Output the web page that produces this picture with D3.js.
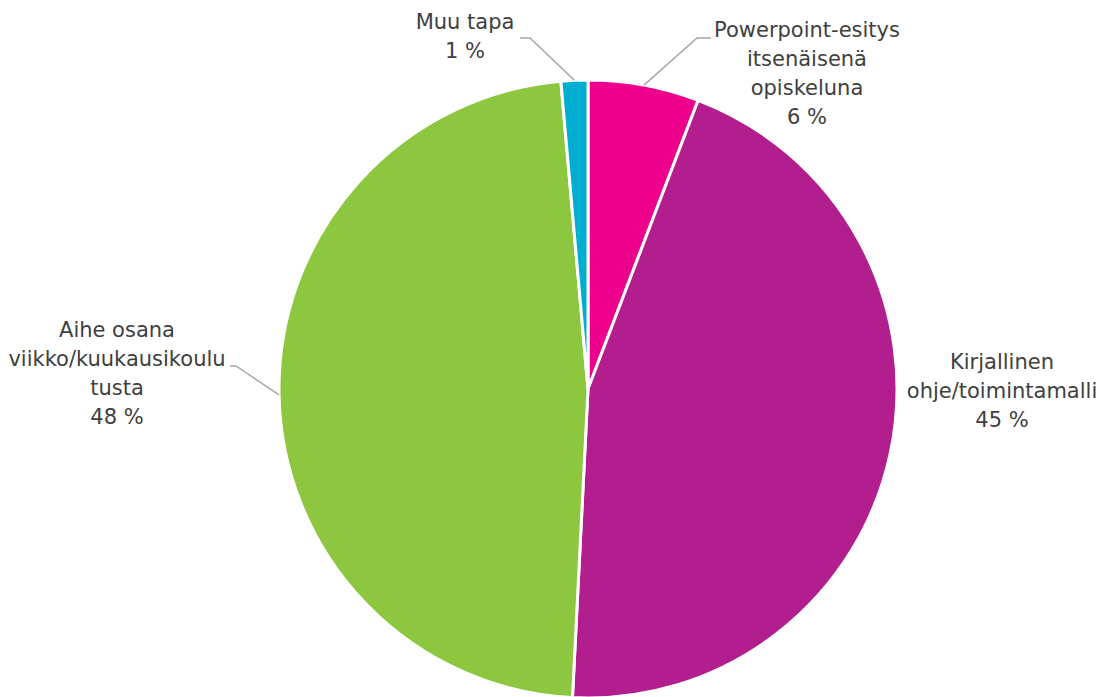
<!DOCTYPE html>
<html><head><meta charset="utf-8">
<script src="https://cdn.jsdelivr.net/npm/d3@7"></script>
<style>html,body{margin:0;padding:0;background:#fff;}svg{display:block;}</style>
</head><body>
<svg id="c" width="1116" height="697"></svg>
<script>
const categories = ["Powerpoint-esitys itsenäisenä opiskeluna", "Kirjallinen ohje/toimintamalli", "Aihe osana viikko/kuukausikoulutusta", "Muu tapa"];
const values = [5.8, 45.0, 47.8, 1.4];
const labelLines = [
  ["Powerpoint-esitys", "itsenäisenä", "opiskeluna"],
  ["Kirjallinen", "ohje/toimintamalli"],
  ["Aihe osana", "viikko/kuukausikoulu", "tusta"],
  ["Muu tapa"]
];
const colors = ["#EC008C", "#B31E8F", "#8DC63F", "#00AECF"];

// layout (label block centres and leader line elbows)
const W = 1116, H = 697, cx = 588, cy = 389, R = 309;
const labelLayout = [
  {x: 807, y: 30, leader: true, elbow: [[697, 38], [711, 38]], frac: 0.5},
  {x: 1002, y: 362, leader: false},
  {x: 117, y: 330, leader: true, elbow: [[236, 366], [230, 366]], frac: 0.5},
  {x: 465, y: 22, leader: true, elbow: [[530, 38], [520, 38]], frac: 0.5}
];
const lineH = 29;

const svg = d3.select("#c");
const g = svg.append("g").attr("transform", `translate(${cx},${cy})`);
const pie = d3.pie().sort(null).value(d => d)(values);
const arc = d3.arc().innerRadius(0).outerRadius(R);

g.selectAll("path.slice").data(pie).join("path")
  .attr("class", "slice")
  .attr("d", arc)
  .attr("fill", (d, i) => colors[i])
  .attr("stroke", "#fff")
  .attr("stroke-width", 3)
  .attr("stroke-linejoin", "round");

pie.forEach((d, i) => {
  const L = labelLayout[i];
  const lines = labelLines[i].concat([Math.round(values[i]) + " %"]);
  const t = svg.append("text")
    .attr("text-anchor", "middle")
    .attr("font-family", "DejaVu Sans, Verdana, sans-serif")
    .attr("font-size", 21)
    .attr("fill", "#404040");
  lines.forEach((s, k) => {
    t.append("tspan").attr("x", L.x).attr("y", L.y + k * lineH).attr("dy", "0.35em").text(s);
  });
  if (L.leader) {
    const a = d.startAngle + (d.endAngle - d.startAngle) * L.frac;
    const p0 = [cx + R * Math.sin(a), cy - R * Math.cos(a)];
    const pts = [p0].concat(L.elbow);
    svg.append("path")
      .attr("d", d3.line()(pts))
      .attr("fill", "none")
      .attr("stroke", "#A6A6A6")
      .attr("stroke-width", 1.5);
  }
});
</script>
</body></html>
